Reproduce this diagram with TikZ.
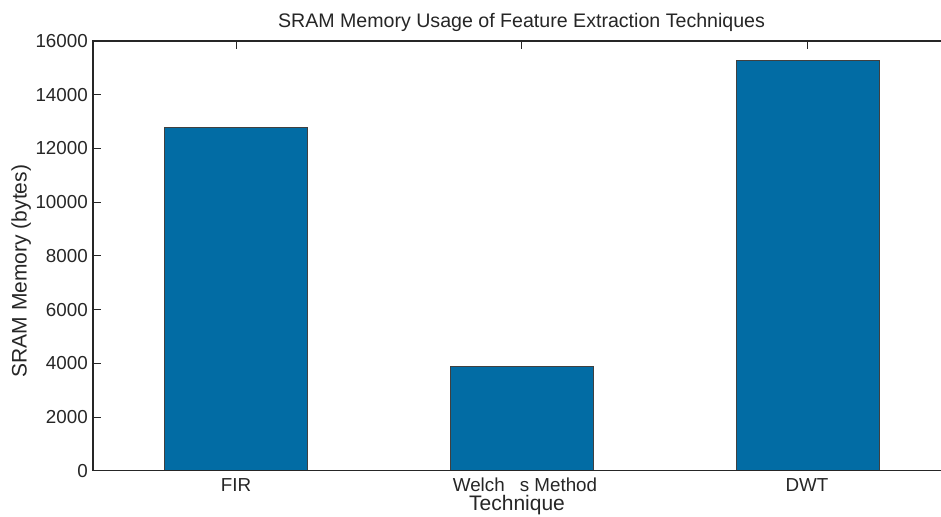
\documentclass[tikz,border=0pt]{standalone}
\usepackage{fontspec}
\setmainfont{Liberation Sans}
\definecolor{barblue}{RGB}{2,108,164}
\definecolor{axisgray}{RGB}{38,38,38}
\begin{document}
\begin{tikzpicture}[x=1pt,y=-1pt,
  bar/.style={fill=barblue,draw=black!75,line width=0.8pt},
  axisline/.style={draw=axisgray,line width=1.3pt},
  tickline/.style={draw=axisgray,line width=0.9pt},
  ticklab/.style={font=\fontsize{18.8}{22}\selectfont,text=axisgray,inner sep=0pt},
  labeltext/.style={font=\fontsize{21}{25}\selectfont,text=axisgray,inner sep=0pt},
  titletext/.style={font=\fontsize{19.6}{23}\selectfont,text=axisgray,inner sep=0pt}]
\useasboundingbox (0,0) rectangle (941,516);
\fill[white] (0,0) rectangle (941,516);
% bars
\draw[bar] (164,470.7) rectangle (307.5,127.3);
\draw[bar] (450,470.7) rectangle (593,366.3);
\draw[bar] (736,470.7) rectangle (879,60);
% axes
\draw[axisline] (941,40.9) -- (93,40.9) -- (93,470.7) -- (941,470.7);
% y ticks and labels
\foreach \v [count=\i] in {0,2000,4000,6000,8000,10000,12000,14000,16000}{
  \pgfmathsetmacro{\yy}{470.7-(\i-1)*53.725}
  \draw[tickline] (93,\yy) -- (101,\yy);
  \node[ticklab,anchor=east] (ylab\i) at (88,\yy) {\v};
}
% x ticks on top
\foreach \xx in {236,521.5,807}{
  \draw[tickline] (\xx,40.9) -- (\xx,48.9);
}
% x tick labels
\node[ticklab,anchor=base] (xfir) at (236,491.7) {FIR};
\node[ticklab,anchor=base] (xwelch) at (525,491.2) {Welch\hspace{0.8em}s Method};
\node[ticklab,anchor=base] (xdwt) at (807,491.7) {DWT};
% axis labels and title
\node[labeltext,anchor=base] (xlabel) at (517,510.5) {Technique};
\node[labeltext,anchor=base,rotate=90] (ylabel) at (26.7,271) {SRAM Memory (bytes)};
\node[titletext,anchor=base] (title) at (521.5,27.3) {SRAM Memory Usage of Feature Extraction Techniques};
\end{tikzpicture}
\end{document}
